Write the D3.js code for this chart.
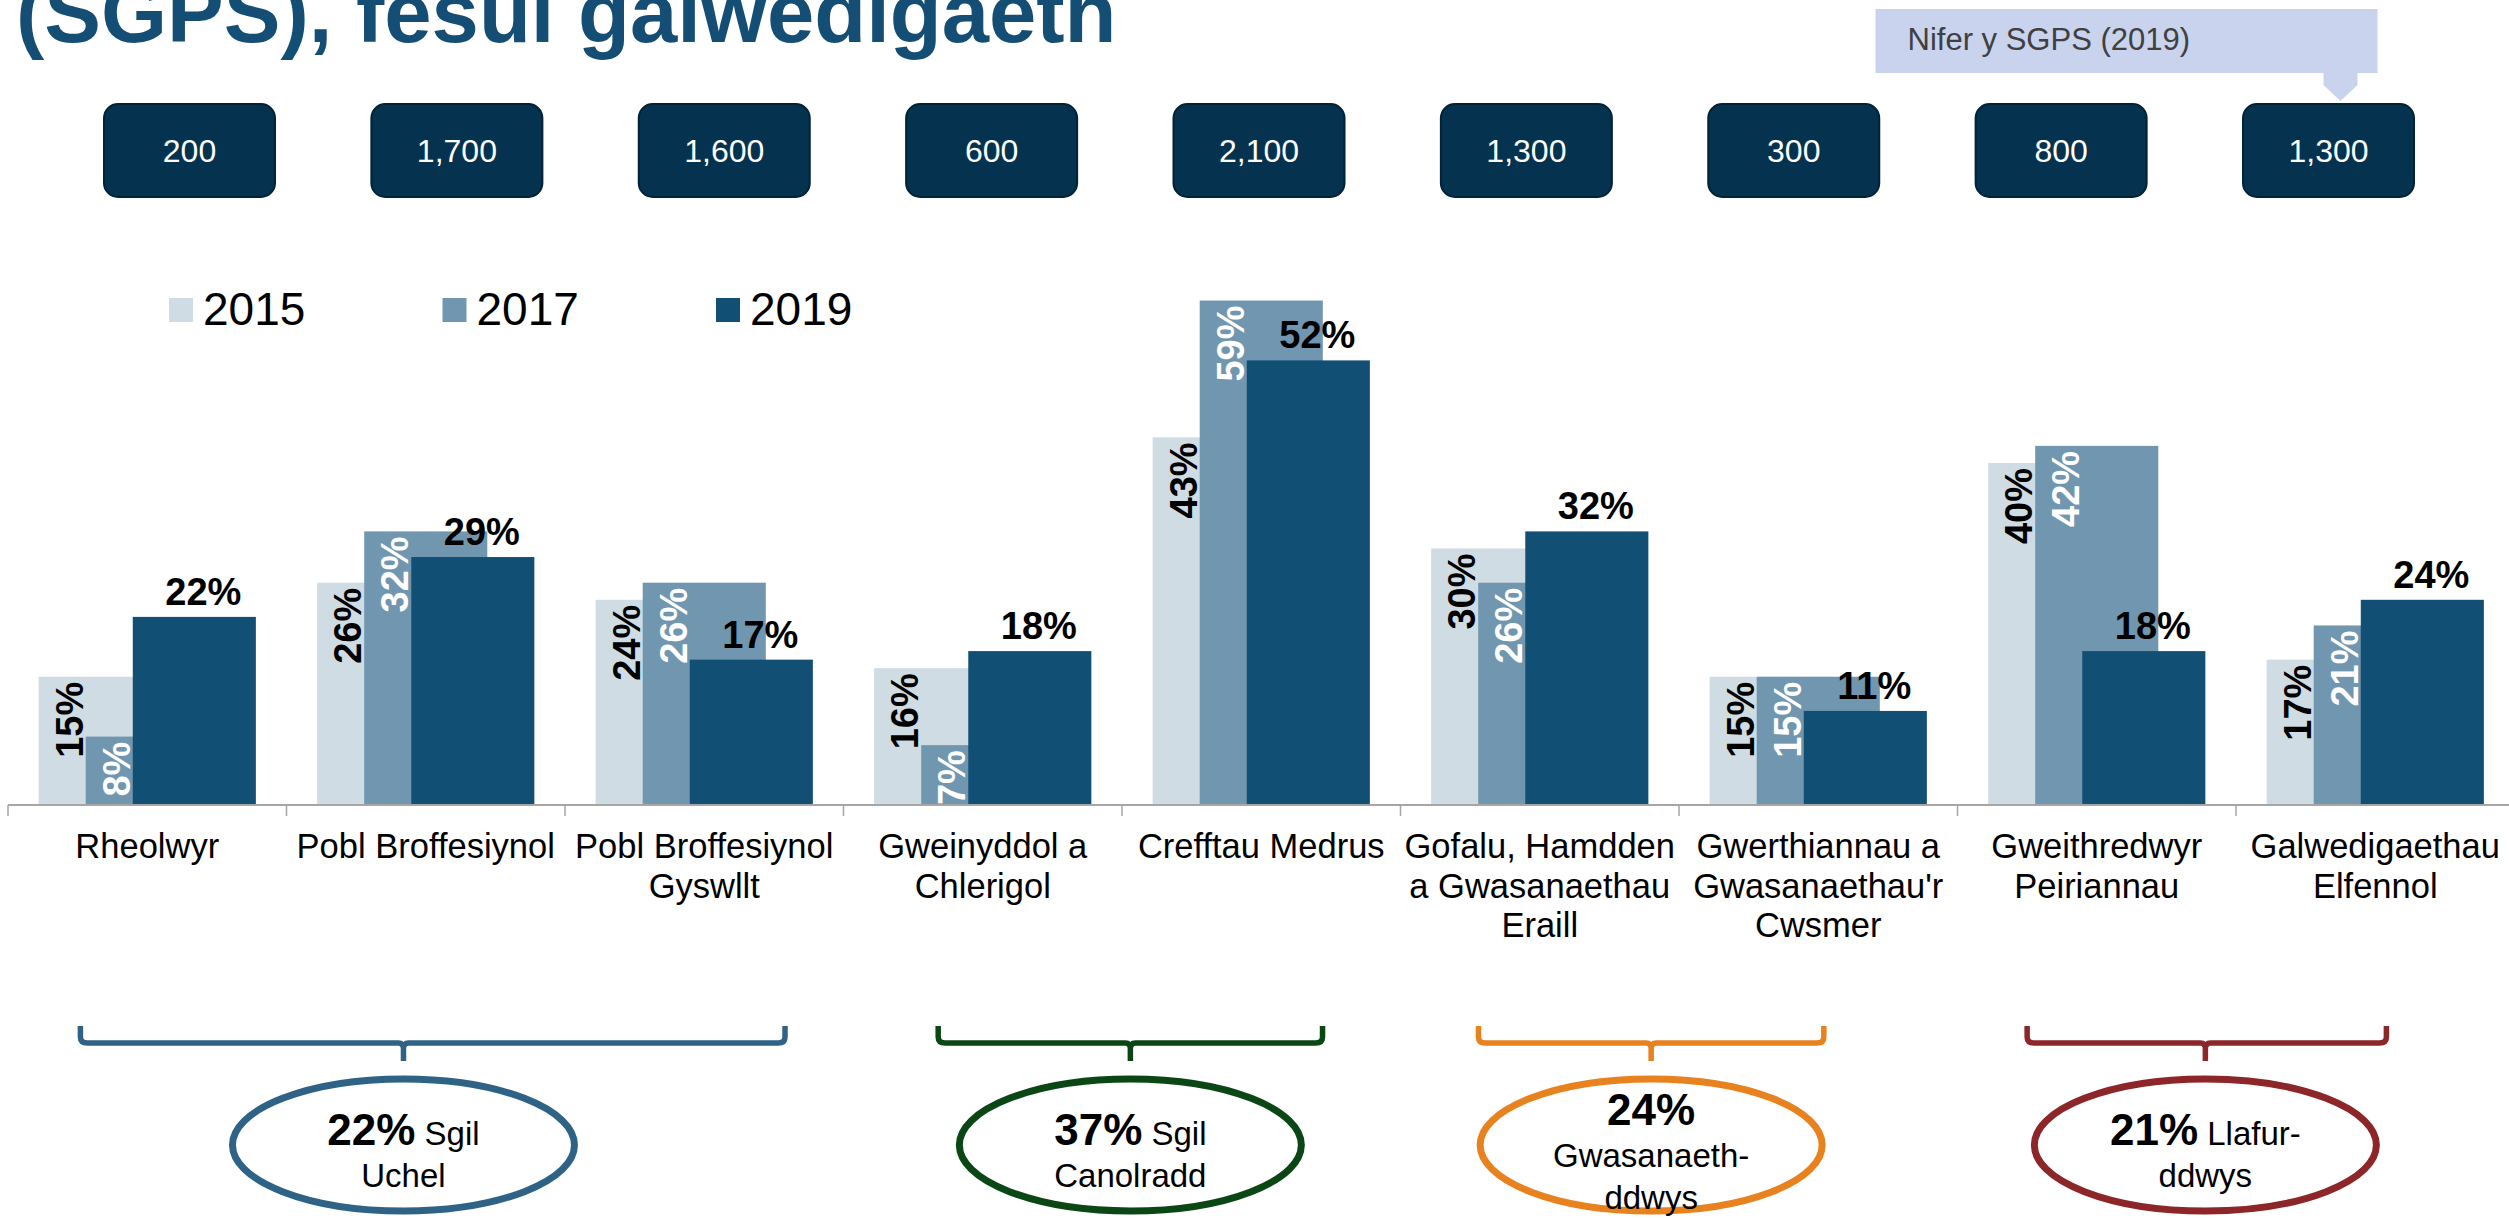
<!DOCTYPE html>
<html>
<head>
<meta charset="utf-8">
<script src="https://cdn.jsdelivr.net/npm/d3@7"></script>
<style>
  body { margin: 0; background: #fff; }
  svg { display: block; font-family: "Liberation Sans", Arial, sans-serif; }
</style>
</head>
<body>
<div id="chart"></div>
<script>
// occupations (line breaks as in the original axis)
const categories = [
    "Rheolwyr",
    "Pobl Broffesiynol",
    "Pobl Broffesiynol\nGyswllt",
    "Gweinyddol a\nChlerigol",
    "Crefftau Medrus",
    "Gofalu, Hamdden\na Gwasanaethau\nEraill",
    "Gwerthiannau a\nGwasanaethau'r\nCwsmer",
    "Gweithredwyr\nPeiriannau",
    "Galwedigaethau\nElfennol"
];
const years = ["2015", "2017", "2019"];
const share2015 = [15, 26, 24, 16, 43, 30, 15, 40, 17];
const share2017 = [8, 32, 26, 7, 59, 26, 15, 42, 21];
const share2019 = [22, 29, 17, 18, 52, 32, 11, 18, 24];
const count2019 = [200, 1700, 1600, 600, 2100, 1300, 300, 800, 1300];

// skill groups under the axis
const groupShare = [22, 37, 24, 21];
const groupWords = [["Sgil", "Uchel"], ["Sgil", "Canolradd"], ["", "Gwasanaeth-", "ddwys"], ["Llafur-", "ddwys"]];

const series = [share2015, share2017, share2019];
const seriesColor = ["#CFDCE4", "#7196AF", "#124F74"];
const groupColor = ["#2E6386", "#0A4715", "#E8821F", "#8D2629"];

const W = 2509, H = 1218;
const baseY = 805;

let svg = d3.select("#chart").append("svg")
    .attr("width", W)
    .attr("height", H);

svg.append("rect").attr("width", W).attr("height", H).attr("fill", "#fff");

let x = d3.scaleBand()
    .domain(d3.range(categories.length))
    .range([8, 2514.5])
    .padding(0);
const bw = x.bandwidth();

let xs = d3.scalePoint()
    .domain(years)
    .range([bw * 0.11, bw * 0.448]);
const barW = bw * 0.442;

let y = d3.scaleLinear()
    .domain([0, 60])
    .range([baseY, baseY - 60 * 8.55]);

// continuous category scale for the annotations
let xc = d3.scaleLinear().domain([0, categories.length]).range(x.range());

/* title (cut by top edge) */
svg.append("text")
    .attr("x", 16)
    .attr("y", 42)
    .attr("font-size", 85)
    .attr("font-weight", "bold")
    .attr("fill", "#154E74")
    .text("(SGPS), fesul galwedigaeth");

/* boxes with 2019 employment */
let xb = d3.scalePoint()
    .domain(d3.range(categories.length))
    .range([189.5, 2328.5]);

let boxes = svg.selectAll("g.box")
    .data(count2019)
    .enter().append("g")
    .attr("class", "box")
    .attr("transform", (d, i) => "translate(" + xb(i) + ",0)");

boxes.append("rect")
    .attr("x", -85.5)
    .attr("y", 104)
    .attr("width", 171)
    .attr("height", 93)
    .attr("rx", 14)
    .attr("fill", "#04324F")
    .attr("stroke", "#022236")
    .attr("stroke-width", 2);

boxes.append("text")
    .attr("y", 162)
    .attr("text-anchor", "middle")
    .attr("font-size", 32)
    .attr("fill", "#fff")
    .text(d => d3.format(",")(d));

/* callout pointing at the last box */
const cx0 = xb(categories.length - 1);
svg.append("rect")
    .attr("x", cx0 - 453)
    .attr("y", 9)
    .attr("width", 502)
    .attr("height", 64)
    .attr("fill", "#C9D3EE");
svg.append("path")
    .attr("d", "M" + (cx0 - 5) + ",72 L" + (cx0 + 29) + ",72 L" + (cx0 + 29) + ",85 L" +
        (cx0 + 12) + ",101 L" + (cx0 - 5) + ",85 Z")
    .attr("fill", "#C9D3EE");
svg.append("text")
    .attr("x", cx0 - 421)
    .attr("y", 50)
    .attr("font-size", 31)
    .attr("fill", "#404040")
    .text("Nifer y SGPS (2019)");

/* legend */
let legend = svg.selectAll("g.legend")
    .data(years)
    .enter().append("g")
    .attr("class", "legend")
    .attr("transform", (d, i) => "translate(" + (169 + i * 273.5) + ",0)");
legend.append("rect")
    .attr("y", 298)
    .attr("width", 24)
    .attr("height", 24)
    .attr("fill", (d, i) => seriesColor[i]);
legend.append("text")
    .attr("x", 34)
    .attr("y", 325)
    .attr("font-size", 46)
    .attr("fill", "#000")
    .text(d => d);

/* bars, series by series, labels drawn with their series */
series.forEach(function (vals, s) {
    let left = i => x(i) + xs(years[s]);

    svg.append("g").selectAll("rect")
        .data(vals)
        .enter().append("rect")
        .attr("x", (d, i) => left(i))
        .attr("y", d => y(d))
        .attr("width", barW)
        .attr("height", d => baseY - y(d))
        .attr("fill", seriesColor[s]);

    if (s < 2) {
        svg.append("g").selectAll("text")
            .data(vals)
            .enter().append("text")
            .attr("transform", (d, i) => "translate(" + (left(i) + 44) + "," + (y(d) + 5) + ") rotate(-90)")
            .attr("text-anchor", "end")
            .attr("font-size", 38)
            .attr("font-weight", "bold")
            .attr("fill", s === 0 ? "#000" : "#fff")
            .text(d => d + "%");
    } else {
        svg.append("g").selectAll("text")
            .data(vals)
            .enter().append("text")
            .attr("x", (d, i) => left(i) + barW / 2 + 9)
            .attr("y", d => y(d) - 12)
            .attr("text-anchor", "middle")
            .attr("font-size", 38)
            .attr("font-weight", "bold")
            .attr("fill", "#000")
            .text(d => d + "%");
    }
});

/* axis */
svg.append("line")
    .attr("x1", x(0))
    .attr("x2", W)
    .attr("y1", baseY)
    .attr("y2", baseY)
    .attr("stroke", "#A6A6A6")
    .attr("stroke-width", 2);

svg.append("g").selectAll("line")
    .data(d3.range(categories.length + 1))
    .enter().append("line")
    .attr("x1", d => xc(d))
    .attr("x2", d => xc(d))
    .attr("y1", baseY)
    .attr("y2", baseY + 11)
    .attr("stroke", "#A6A6A6")
    .attr("stroke-width", 1.5);

let catLabels = svg.append("g").selectAll("text")
    .data(categories)
    .enter().append("text")
    .attr("text-anchor", "middle")
    .attr("font-size", 34.5)
    .attr("fill", "#000");

catLabels.selectAll("tspan")
    .data((d, i) => d.split("\n").map(t => ({t: t, i: i})))
    .enter().append("tspan")
    .attr("x", d => x(d.i) + bw / 2)
    .attr("y", (d, j) => 858 + j * 39.5)
    .text(d => d.t);

/* skill group braces and ellipses
   span in category units: start, end, stem */
const braceAt = [[0.26, 2.79, 1.42], [3.34, 4.72, 4.03], [5.28, 6.52, 5.9], [7.25, 8.54, 7.89]];

function bracePath(a, b, m) {
    let top = 1026, mid = 1043, bot = 1061;
    return "M" + a + "," + top + " L" + a + "," + (mid - 6) + " Q" + a + "," + mid + " " + (a + 7) + "," + mid +
        " L" + (m - 5) + "," + mid + " Q" + m + "," + mid + " " + m + "," + (mid + 6) + " L" + m + "," + bot +
        " M" + m + "," + (mid + 6) + " Q" + m + "," + mid + " " + (m + 5) + "," + mid +
        " L" + (b - 7) + "," + mid + " Q" + b + "," + mid + " " + b + "," + (mid - 6) + " L" + b + "," + top;
}

let groups = svg.selectAll("g.grp")
    .data(groupShare)
    .enter().append("g")
    .attr("class", "grp");

groups.append("path")
    .attr("d", (d, i) => bracePath(xc(braceAt[i][0]), xc(braceAt[i][1]), xc(braceAt[i][2])))
    .attr("fill", "none")
    .attr("stroke", (d, i) => groupColor[i])
    .attr("stroke-width", 5.5);

groups.append("ellipse")
    .attr("cx", (d, i) => xc(braceAt[i][2]))
    .attr("cy", 1145)
    .attr("rx", 171)
    .attr("ry", 66)
    .attr("fill", "#fff")
    .attr("stroke", (d, i) => groupColor[i])
    .attr("stroke-width", 7);

groups.each(function (d, i) {
    let g = d3.select(this);
    let words = groupWords[i];
    let cx = xc(braceAt[i][2]);
    let y0 = 1145 - (words.length - 2) * 20;
    let first = g.append("text")
        .attr("x", cx)
        .attr("y", y0)
        .attr("text-anchor", "middle")
        .attr("fill", "#000");
    first.append("tspan")
        .attr("font-size", 44)
        .attr("font-weight", "bold")
        .text(d + "%");
    if (words[0] !== "") {
        first.append("tspan")
            .attr("font-size", 33)
            .text(" " + words[0]);
    }
    words.slice(1).forEach(function (w, j) {
        g.append("text")
            .attr("x", cx)
            .attr("y", y0 + 42 * (j + 1))
            .attr("text-anchor", "middle")
            .attr("font-size", 33)
            .attr("fill", "#000")
            .text(w);
    });
});
</script>
</body>
</html>
